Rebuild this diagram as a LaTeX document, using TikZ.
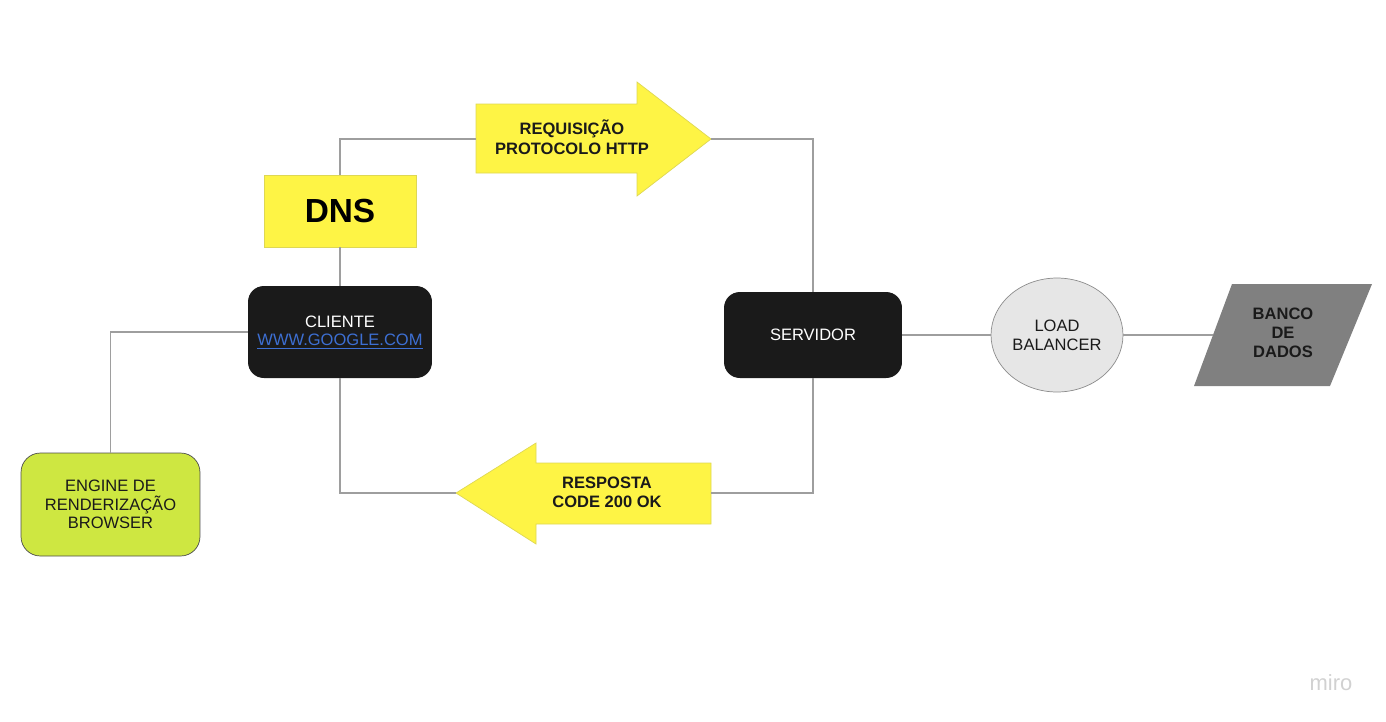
\documentclass[tikz,border=0pt]{standalone}
\usepackage{fontspec}
\setmainfont{Liberation Sans}
\usetikzlibrary{shapes.geometric}
\definecolor{postit}{HTML}{FEF445}
\definecolor{boxblack}{HTML}{1A1A1A}
\definecolor{lime}{HTML}{CEE741}
\definecolor{lbgray}{HTML}{E6E6E6}
\definecolor{dbgray}{HTML}{808080}
\definecolor{linegray}{HTML}{9E9E9E}
\definecolor{linkblue}{HTML}{3D6FD3}
\begin{document}
\begin{tikzpicture}
[
x=0.02cm, y=-0.02cm,
link/.style={draw=linegray, line width=0.6pt},
txt/.style={font=\fontsize{9.4}{10.7}\selectfont, align=center, inner sep=0},
boldtxt/.style={font=\fontsize{9.4}{10.7}\selectfont\bfseries, align=center, inner sep=0, text=boxblack},
bigarrow/.style={fill=postit, draw=postit!75!gray, line width=0.4pt},
dnsbox/.style={rectangle, fill=postit, draw=postit!75!gray, line width=0.4pt, minimum width=3.04cm, minimum height=1.44cm, inner sep=0, font=\fontsize{19}{22}\selectfont\bfseries},
darkbox/.style={rectangle, rounded corners=9pt, fill=boxblack, text=white, inner sep=0},
enginebox/.style={rectangle, rounded corners=11pt, fill=lime, draw=black!70, line width=0.4pt, minimum width=3.58cm, minimum height=2.06cm, inner sep=0, txt, text=boxblack},
lbcircle/.style={ellipse, fill=lbgray, draw=black!45, line width=0.4pt, minimum width=2.64cm, minimum height=2.28cm, inner sep=0, txt, text=boxblack}
]
\useasboundingbox (0,0) rectangle (1386,721);
%Nodes
\node[dnsbox] at(340,211)		(dns) {DNS};
\node[darkbox, minimum width=3.68cm, minimum height=1.84cm] at(340,332)	(cliente) {};
\node[txt, text=white, font=\fontsize{9.4}{11.2}\selectfont] at(340,333)	(clientetxt) {CLIENTE\\[-1pt]\textcolor{linkblue}{\underline{WWW.GOOGLE.COM}}};
\node[darkbox, minimum width=3.56cm, minimum height=1.72cm, txt] at(813,335)	(servidor) {SERVIDOR};
\node[enginebox] at(110.5,504.5)	(engine) {ENGINE DE\\RENDERIZAÇÃO\\BROWSER};
\node[lbcircle] at(1057,335)	(lb) {LOAD\\BALANCER};
%Arrows
\draw[bigarrow] (476,104) -- (637,104) -- (637,82) -- (711,139) -- (637,196) -- (637,173) -- (476,173) -- cycle;
\coordinate (reqtail) at(476,139);
\coordinate (reqtip) at(711,139);
\node[boldtxt, font=\fontsize{9.4}{11.2}\selectfont\bfseries] at(572,137)	(req) {REQUISIÇÃO\\PROTOCOLO HTTP};
\draw[bigarrow] (711,463) -- (536,463) -- (536,443) -- (456,493) -- (536,544) -- (536,524) -- (711,524) -- cycle;
\coordinate (restip) at(456,493);
\coordinate (restail) at(711,493);
\node[boldtxt] at(607,492)	(res) {RESPOSTA\\CODE 200 OK};
%Banco
\fill[dbgray] (1232,284) -- (1372,284) -- (1330,386) -- (1194,386) -- cycle;
\coordinate (dbw) at(1213,335);
\node[boldtxt] at(1283,333)	(db) {BANCO\\DE\\DADOS};
%Lines
\draw[link] (dns.north) |- (reqtail);
\draw[link] (reqtip) -| (servidor.north);
\draw[link] (dns.south) -- (cliente.north);
\draw[link] (cliente.west) -| (engine.north);
\draw[link] (cliente.south) |- (restip);
\draw[link] (restail) -| (servidor.south);
\draw[link] (servidor.east) -- (lb.west);
\draw[link] (lb.east) -- (dbw);
\node[font=\fontsize{12.5}{14}\selectfont, text=black!18] at(1331,683)	(miro) {miro};
\end{tikzpicture}
\end{document}
